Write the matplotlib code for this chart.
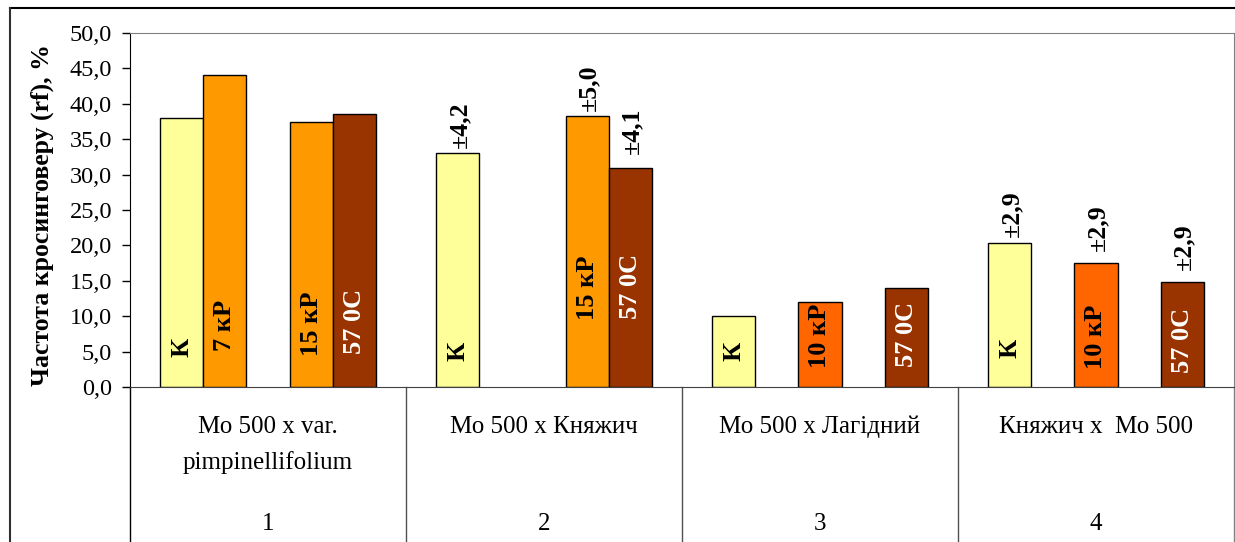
import numpy as np
import matplotlib
matplotlib.use('Agg')
import matplotlib.pyplot as plt
from matplotlib.lines import Line2D
from matplotlib.transforms import blended_transform_factory

plt.rcParams['font.family'] = ['Liberation Serif', 'DejaVu Serif']

# data
categories = ['Мо 500 х var.\npimpinellifolium', 'Мо 500 х Княжич',
              'Мо 500 х Лагідний', 'Княжич х  Мо 500']
group_numbers = ['1', '2', '3', '4']
series_names = ['К', '7 кР', '10 кР', '15 кР', '57 0С']
nan = np.nan
k_vals = [38.0, 33.0, 10.0, 20.4]
r7_vals = [44.0, nan, nan, nan]
r10_vals = [nan, nan, 12.0, 17.5]
r15_vals = [37.5, 38.3, nan, nan]
c57_vals = [38.5, 31.0, 14.0, 14.9]
k_err = ['', '±4,2', '', '±2,9']
r7_err = ['', '', '', '']
r10_err = ['', '', '', '±2,9']
r15_err = ['', '±5,0', '', '']
c57_err = ['', '±4,1', '', '±2,9']

values = [k_vals, r7_vals, r10_vals, r15_vals, c57_vals]
errors = [k_err, r7_err, r10_err, r15_err, c57_err]
colors = ['#FFFF99', '#FF9900', '#FF6600', '#FF9900', '#993300']
text_colors = ['black', 'black', 'black', 'black', 'white']
# where the name labels sit inside the bars (data units) and gap above bars (px)
label_y = [[5.6, 5.0, 5.0, 5.4], [8.7] * 4, [7.3, 7.3, 7.3, 7.1],
           [9.0, 14.0, 9.0, 9.0], [9.3, 14.2, 7.4, 6.6]]
err_gap = [[5, 5, 5, 6], [5] * 4, [5, 5, 5, 12], [5, 5, 5, 5], [5, 14, 5, 12]]

W, H = 1235, 542
fig = plt.figure(figsize=(W / 100, H / 100), dpi=100)
ax = fig.add_axes([130 / W, 1 - 387 / H, 1104 / W, 354 / H])

x = np.arange(len(categories))
bw = 0.156
for i, vals in enumerate(values):
    xs = x + (i - 2) * bw
    ax.bar(xs, vals, width=bw, color=colors[i], edgecolor='black', linewidth=1, zorder=2)
    for j, v in enumerate(vals):
        if np.isnan(v):
            continue
        ax.text(xs[j], label_y[i][j], series_names[i], rotation=90, ha='center', va='center',
                fontsize=19, fontweight='bold', color=text_colors[i], zorder=3)
        if errors[i][j]:
            ax.annotate(errors[i][j], (xs[j], v), xytext=(2, err_gap[i][j]),
                        textcoords='offset pixels', rotation=90, ha='center', va='bottom',
                        fontsize=18.5, fontweight='bold')

ax.set_xlim(-0.5, 3.5)
ax.set_ylim(0, 50)
ax.set_yticks(np.arange(0, 50.1, 5))
ax.set_yticklabels([f'{t:.1f}'.replace('.', ',') for t in np.arange(0, 50.1, 5)])
ax.tick_params(axis='y', length=6, width=1, pad=7, labelsize=17.5, direction='out')
ax.set_xticks([])
for s in ['top', 'right']:
    ax.spines[s].set_color('#808080')
ax.spines['left'].set_color('black')
ax.spines['bottom'].set_color('#404040')

# category table below the axis
tr = blended_transform_factory(ax.transData, ax.transAxes)
ybot = (387 - H) / 354
for b in np.arange(-0.5, 4, 1.0):
    col = 'black' if b < 0 else ('#808080' if b > 3 else '#505050')
    ax.add_line(Line2D([b, b], [0, ybot], transform=tr, color=col, lw=1, clip_on=False))
for j, name in enumerate(categories):
    ax.text(x[j], (387 - 416) / 354, name, transform=tr, ha='center', va='top',
            fontsize=18, linespacing=1.75)
    ax.text(x[j], (387 - 524) / 354, group_numbers[j], transform=tr, ha='center',
            va='center', fontsize=18)

fig.text(42 / W, 1 - 215 / H, 'Частота кросинговеру (rf), %', rotation=90, ha='center',
         va='center', fontsize=18.5, fontweight='bold')

# outer frame
fig.add_artist(Line2D([10 / W, 1], [1 - 8 / H] * 2, color='black', lw=1.5))
fig.add_artist(Line2D([10 / W] * 2, [0, 1 - 8 / H], color='#303030', lw=1.5))

fig.savefig('out.png', dpi=100)
